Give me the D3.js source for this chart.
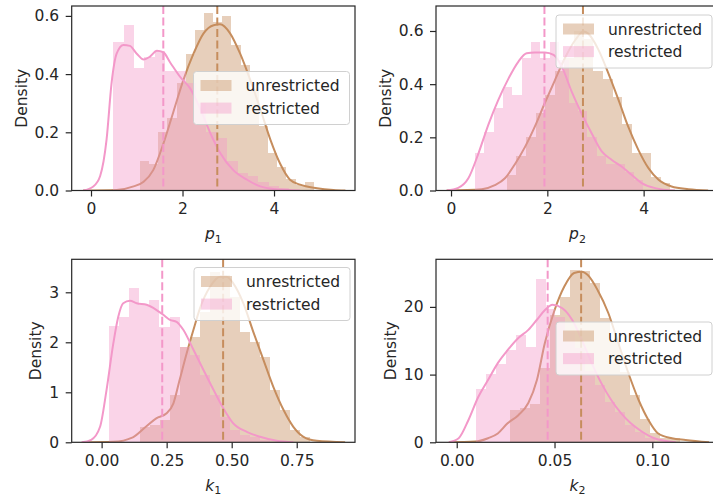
<!DOCTYPE html>
<html>
<head>
<meta charset="utf-8">
<script src="https://cdn.jsdelivr.net/npm/d3@7"></script>
<style>
  body { margin: 0; background: #fff; }
  svg { display: block; font-family: "DejaVu Sans", sans-serif; }
  .axis text { font-size: 15.5px; fill: #262626; font-family: "DejaVu Sans", sans-serif; }
  .axis line { stroke: #262626; stroke-width: 1.2; }
  .axis path { display: none; }
</style>
</head>
<body>
<svg id="chart" width="713" height="498"></svg>
<script>
// series names, in legend order
const seriesNames = ['unrestricted', 'restricted'];
const seriesColors = ['#c68d5d', '#f398c9'];

// ---- p1 ----
const p1UnrestrictedBin = [1.07, 0.2]; // first edge, bin width
const p1UnrestrictedHist = [0.10, 0.09, 0.20, 0.25, 0.37, 0.47, 0.55, 0.61, 0.58, 0.60, 0.50, 0.43, 0.35, 0.22, 0.13, 0.08, 0.04, 0.02, 0.03];
const p1RestrictedBin = [0.49, 0.226];
const p1RestrictedHist = [0.51, 0.57, 0.42, 0.46, 0.48, 0.41, 0.41, 0.37, 0.30, 0.20, 0.18, 0.10, 0.06, 0.05, 0.03, 0.015, 0.01];
const p1UnrestrictedKde = [[-0.17,0],[0.56,0.002],[0.93,0.014],[1.15,0.03],[1.36,0.07],[1.58,0.16],[1.8,0.27],[2.02,0.38],[2.24,0.47],[2.46,0.54],[2.68,0.568],[2.82,0.571],[3.04,0.54],[3.26,0.47],[3.48,0.38],[3.7,0.28],[3.92,0.175],[4.14,0.09],[4.35,0.037],[4.57,0.02],[4.94,0.008],[5.3,0.002],[5.56,0]];
const p1RestrictedKde = [[-0.17,0],[0.05,0.014],[0.2,0.05],[0.34,0.175],[0.45,0.37],[0.56,0.47],[0.71,0.50],[0.85,0.497],[1.0,0.47],[1.15,0.45],[1.29,0.46],[1.44,0.48],[1.58,0.475],[1.73,0.44],[1.95,0.39],[2.17,0.35],[2.39,0.28],[2.6,0.20],[2.82,0.13],[3.11,0.07],[3.41,0.037],[3.7,0.014],[3.99,0.005],[4.57,0]];
const p1Means = [2.76, 1.58];
const p1XTicks = [0, 2, 4];
const p1YTicks = [0, 0.2, 0.4, 0.6];

// ---- p2 ----
const p2UnrestrictedBin = [1.156, 0.2];
const p2UnrestrictedHist = [0.06, 0.13, 0.20, 0.29, 0.36, 0.45, 0.50, 0.60, 0.57, 0.45, 0.42, 0.35, 0.25, 0.14, 0.14, 0.05, 0.03];
const p2RestrictedBin = [0.5, 0.194];
const p2RestrictedHist = [0.14, 0.22, 0.31, 0.39, 0.36, 0.50, 0.56, 0.50, 0.56, 0.49, 0.33, 0.30, 0.20, 0.13, 0.10, 0.10, 0.07, 0.04];
const p2UnrestrictedKde = [[-0.09,0],[0.64,0.005],[0.91,0.02],[1.12,0.046],[1.33,0.10],[1.54,0.165],[1.74,0.24],[1.95,0.33],[2.16,0.416],[2.37,0.50],[2.58,0.566],[2.75,0.598],[2.85,0.59],[3.06,0.53],[3.27,0.44],[3.48,0.34],[3.68,0.24],[3.89,0.153],[4.1,0.084],[4.31,0.04],[4.58,0.015],[4.93,0.005],[5.34,0]];
const p2RestrictedKde = [[-0.09,0],[0.15,0.01],[0.36,0.046],[0.57,0.14],[0.78,0.25],[0.98,0.34],[1.19,0.42],[1.4,0.485],[1.57,0.516],[1.74,0.519],[1.95,0.519],[2.13,0.51],[2.3,0.466],[2.51,0.37],[2.71,0.29],[2.92,0.215],[3.13,0.147],[3.34,0.115],[3.54,0.09],[3.75,0.059],[3.96,0.028],[4.24,0.009],[4.65,0]];
const p2Means = [2.74, 1.94];
const p2XTicks = [0, 2, 4];
const p2YTicks = [0, 0.2, 0.4, 0.6];

// ---- k1 ----
const k1UnrestrictedBin = [0.147, 0.0385];
const k1UnrestrictedHist = [0.3, 0.35, 0.45, 0.95, 1.9, 2.1, 2.6, 3.4, 3.35, 2.9, 2.2, 2.0, 1.7, 1.05, 0.65, 0.25, 0.1];
const k1RestrictedBin = [0.03, 0.0385];
const k1RestrictedHist = [2.33, 2.5, 3.08, 2.75, 2.85, 2.31, 2.5, 1.9, 1.75, 1.35, 0.95, 0.5, 0.25, 0.15, 0.1, 0.05];
const k1UnrestrictedKde = [[-0.07,0],[0.045,0.01],[0.12,0.1],[0.17,0.31],[0.21,0.48],[0.25,0.58],[0.276,0.78],[0.30,1.25],[0.327,1.78],[0.353,2.25],[0.378,2.68],[0.417,3.11],[0.455,3.31],[0.48,3.31],[0.506,3.18],[0.545,2.78],[0.583,2.21],[0.622,1.65],[0.66,1.11],[0.699,0.65],[0.737,0.31],[0.776,0.11],[0.827,0.03],[0.936,0]];
const k1RestrictedKde = [[-0.077,0],[-0.04,0.05],[-0.006,0.31],[0.019,1.05],[0.045,1.98],[0.064,2.51],[0.083,2.78],[0.109,2.83],[0.135,2.78],[0.173,2.75],[0.21,2.65],[0.237,2.55],[0.263,2.45],[0.288,2.41],[0.314,2.25],[0.353,1.85],[0.391,1.45],[0.43,1.05],[0.468,0.68],[0.506,0.38],[0.558,0.21],[0.609,0.11],[0.673,0.03],[0.737,0]];
const k1Means = [0.467, 0.233];
const k1XTicks = [0, 0.25, 0.5, 0.75];
const k1YTicks = [0, 1, 2, 3];

// ---- k2 ----
const k2UnrestrictedBin = [0.0273, 0.0051];
const k2UnrestrictedHist = [4.8, 5.0, 5.7, 11, 18.8, 21.5, 25.5, 25.3, 23.5, 18.4, 15, 10.4, 7.0, 3.4, 1.3, 0.7, 0.6];
const k2RestrictedBin = [0.0097, 0.0051];
const k2RestrictedHist = [7.8, 10.1, 11.5, 13.6, 15.8, 14.1, 24.1, 19.7, 18.5, 16.5, 14, 10.5, 8.5, 6, 4.5, 2.5, 1.5, 0.6];
const k2UnrestrictedKde = [[-0.004,0],[0.0094,0.1],[0.016,0.6],[0.021,1.3],[0.026,2.8],[0.0315,4.0],[0.0366,5.8],[0.041,9.2],[0.045,14.6],[0.05,19.5],[0.055,23],[0.06,25],[0.064,25.2],[0.067,24.7],[0.072,22.5],[0.0775,19.1],[0.0827,14.6],[0.0878,10.2],[0.093,6.25],[0.098,3.3],[0.103,1.3],[0.11,0.6],[0.117,0.35],[0.129,0]];
const k2RestrictedKde = [[-0.004,0],[0.001,0.6],[0.006,3.3],[0.011,6.7],[0.016,9.2],[0.021,11.7],[0.026,13.6],[0.0315,15.4],[0.0366,16.6],[0.041,18.1],[0.045,19.5],[0.049,20.3],[0.054,19.8],[0.059,18.1],[0.064,15.1],[0.069,11.7],[0.074,8.7],[0.079,6.25],[0.084,4.3],[0.089,2.8],[0.0946,1.6],[0.101,0.6],[0.112,0]];
const k2Means = [0.0636, 0.0465];
const k2XTicks = [0, 0.05, 0.10];
const k2YTicks = [0, 10, 20];

const svg = d3.select('#chart');

// panel boxes and axis ranges
const panels = [
  { id: 'p1', sym: 'p', sub: '1', box: [71.7, 355, 6, 190.5], xDomain: [-0.422, 5.77], yDomain: [0, 0.634],
    xTicks: p1XTicks, yTicks: p1YTicks, xFmt: d3.format('d'), yFmt: d3.format('.1f'), legend: [193.5, 71.5],
    bins: [p1UnrestrictedBin, p1RestrictedBin], hists: [p1UnrestrictedHist, p1RestrictedHist],
    kdes: [p1UnrestrictedKde, p1RestrictedKde], means: p1Means },
  { id: 'p2', sym: 'p', sub: '2', box: [436, 719, 6, 190.5], xDomain: [-0.312, 5.565], yDomain: [0, 0.694],
    xTicks: p2XTicks, yTicks: p2YTicks, xFmt: d3.format('d'), yFmt: d3.format('.1f'), legend: [556, 15],
    bins: [p2UnrestrictedBin, p2RestrictedBin], hists: [p2UnrestrictedHist, p2RestrictedHist],
    kdes: [p2UnrestrictedKde, p2RestrictedKde], means: p2Means },
  { id: 'k1', sym: 'k', sub: '1', box: [71.7, 355, 259.3, 442.3], xDomain: [-0.115, 0.974], yDomain: [0, 3.66],
    xTicks: k1XTicks, yTicks: k1YTicks, xFmt: d3.format('.2f'), yFmt: d3.format('d'), legend: [194, 267.5],
    bins: [k1UnrestrictedBin, k1RestrictedBin], hists: [k1UnrestrictedHist, k1RestrictedHist],
    kdes: [k1UnrestrictedKde, k1RestrictedKde], means: k1Means },
  { id: 'k2', sym: 'k', sub: '2', box: [436, 719, 259.3, 442.3], xDomain: [-0.0106, 0.1341], yDomain: [0, 27.03],
    xTicks: k2XTicks, yTicks: k2YTicks, xFmt: d3.format('.2f'), yFmt: d3.format('d'), legend: [556, 322],
    bins: [k2UnrestrictedBin, k2RestrictedBin], hists: [k2UnrestrictedHist, k2RestrictedHist],
    kdes: [k2UnrestrictedKde, k2RestrictedKde], means: k2Means }
];

panels.forEach(drawPanel);

function drawPanel(cfg) {
  const [x0, x1, y0, y1] = cfg.box;
  const x = d3.scaleLinear().domain(cfg.xDomain).range([x0, x1]);
  const y = d3.scaleLinear().domain(cfg.yDomain).range([y1, y0]);

  svg.append('clipPath').attr('id', 'clip-' + cfg.id)
    .append('rect').attr('x', x0).attr('y', y0).attr('width', x1 - x0).attr('height', y1 - y0);

  const g = svg.append('g').attr('clip-path', 'url(#clip-' + cfg.id + ')');

  const line = d3.line()
    .x(d => x(d[0]))
    .y(d => y(d[1]))
    .curve(d3.curveMonotoneX);

  // histogram then kde, unrestricted first so restricted sits on top
  seriesNames.forEach((name, s) => {
    const [start, w] = cfg.bins[s];
    g.append('g')
      .selectAll('rect')
      .data(cfg.hists[s])
      .enter()
      .append('rect')
      .attr('x', (d, i) => x(start + i * w))
      .attr('width', (d, i) => x(start + (i + 1) * w) - x(start + i * w))
      .attr('y', d => y(d))
      .attr('height', d => y(0) - y(d))
      .attr('fill', seriesColors[s])
      .attr('fill-opacity', 0.42)
      .attr('shape-rendering', 'crispEdges');

    g.append('path')
      .datum(cfg.kdes[s])
      .attr('d', line)
      .attr('fill', 'none')
      .attr('stroke', seriesColors[s])
      .attr('stroke-width', 2);
  });

  // mean lines
  cfg.means.forEach((m, s) => {
    g.append('line')
      .attr('x1', x(m)).attr('x2', x(m))
      .attr('y1', y0).attr('y2', y1)
      .attr('stroke', seriesColors[s])
      .attr('stroke-width', 2)
      .attr('stroke-dasharray', '8,3.5');
  });

  // frame
  svg.append('rect')
    .attr('x', x0).attr('y', y0)
    .attr('width', x1 - x0).attr('height', y1 - y0)
    .attr('fill', 'none')
    .attr('stroke', '#262626')
    .attr('stroke-width', 1.2);

  // axes
  svg.append('g')
    .attr('class', 'axis')
    .attr('transform', 'translate(0,' + y1 + ')')
    .call(d3.axisBottom(x).tickValues(cfg.xTicks).tickFormat(cfg.xFmt).tickSize(6).tickPadding(6.5));

  const yAxisG = svg.append('g')
    .attr('class', 'axis')
    .attr('transform', 'translate(' + x0 + ',0)')
    .call(d3.axisLeft(y).tickValues(cfg.yTicks).tickFormat(cfg.yFmt).tickSize(6).tickPadding(6.5));

  // x label, mathtext style
  const xl = svg.append('text')
    .attr('x', (x0 + x1) / 2)
    .attr('y', y1 + 48.5)
    .attr('text-anchor', 'middle')
    .attr('fill', '#262626')
    .style('font-size', '15.5px');
  xl.append('tspan').style('font-style', 'italic').text(cfg.sym);
  xl.append('tspan').attr('dy', 3.5).style('font-size', '11px').text(cfg.sub);

  // y label, placed just left of the tick labels (bbox is in the axis group's own coords)
  const bb = yAxisG.node().getBBox();
  svg.append('text')
    .attr('transform', 'translate(' + (x0 + bb.x - 8) + ',' + ((y0 + y1) / 2) + ') rotate(-90)')
    .attr('text-anchor', 'middle')
    .attr('fill', '#262626')
    .style('font-size', '15.5px')
    .text('Density');

  // legend
  const [lx, ly] = cfg.legend;
  const lg = svg.append('g').attr('transform', 'translate(' + lx + ',' + ly + ')');
  lg.append('rect')
    .attr('width', 156).attr('height', 53).attr('rx', 3)
    .attr('fill', '#fff').attr('fill-opacity', 0.8)
    .attr('stroke', '#d0d0d0').attr('stroke-width', 1);
  seriesNames.forEach((name, s) => {
    const cy = 14 + s * 22.6;
    lg.append('rect')
      .attr('x', 7).attr('y', cy - 5.5)
      .attr('width', 31).attr('height', 11)
      .attr('fill', seriesColors[s]).attr('fill-opacity', 0.42);
    lg.append('text')
      .attr('x', 52).attr('y', cy + 5.5)
      .attr('fill', '#262626')
      .style('font-size', '15.5px')
      .text(name);
  });
}
</script>
</body>
</html>
